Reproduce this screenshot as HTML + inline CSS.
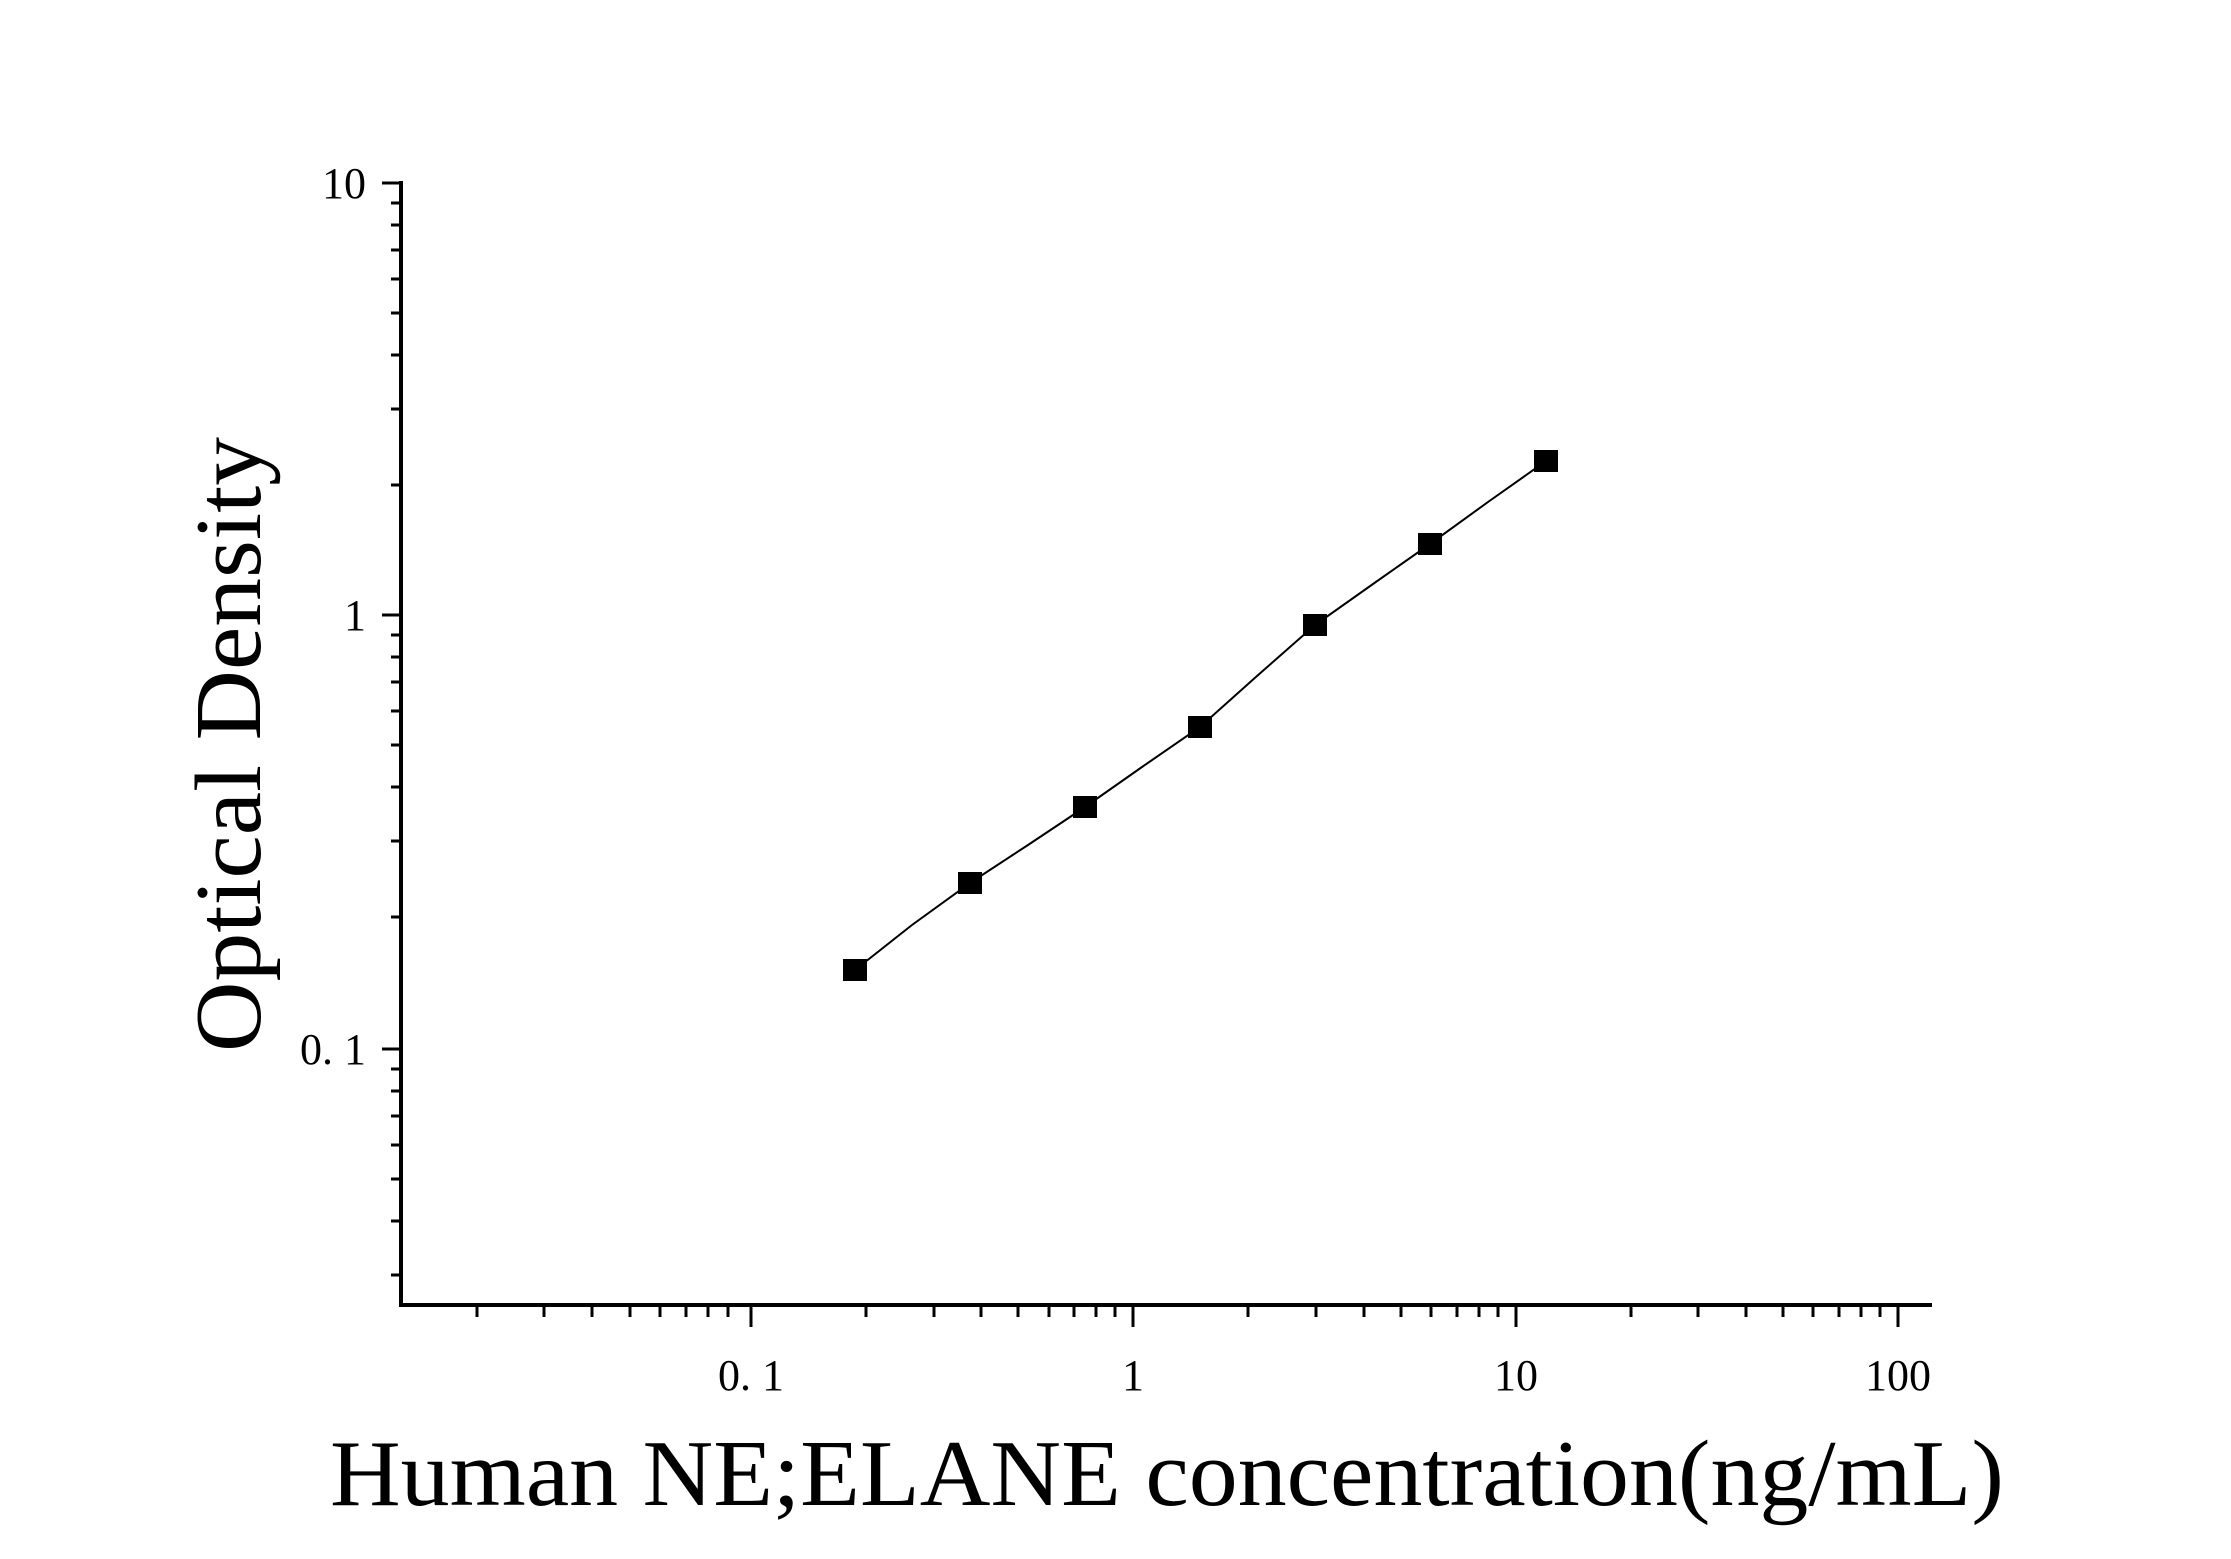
<!DOCTYPE html>
<html><head><meta charset="utf-8"><style>html,body{margin:0;padding:0;background:#fff}svg{display:block}</style></head>
<body>
<svg width="2231" height="1559" viewBox="0 0 2231 1559" xmlns="http://www.w3.org/2000/svg">
<rect width="2231" height="1559" fill="#fff"/>
<g stroke="#000" fill="none">
<line x1="401" y1="181" x2="401" y2="1307" stroke-width="4"/>
<line x1="399" y1="1305" x2="1932" y2="1305" stroke-width="4"/>
<g stroke-width="3">
<line x1="382" y1="183" x2="401" y2="183"/>
<line x1="382" y1="615" x2="401" y2="615"/>
<line x1="382" y1="1049" x2="401" y2="1049"/>
<line x1="391" y1="203" x2="401" y2="203"/><line x1="391" y1="225" x2="401" y2="225"/><line x1="391" y1="250" x2="401" y2="250"/><line x1="391" y1="279" x2="401" y2="279"/><line x1="391" y1="313" x2="401" y2="313"/><line x1="391" y1="355" x2="401" y2="355"/><line x1="391" y1="409" x2="401" y2="409"/><line x1="391" y1="485" x2="401" y2="485"/>
<line x1="391" y1="635" x2="401" y2="635"/><line x1="391" y1="657" x2="401" y2="657"/><line x1="391" y1="682" x2="401" y2="682"/><line x1="391" y1="711" x2="401" y2="711"/><line x1="391" y1="745" x2="401" y2="745"/><line x1="391" y1="787" x2="401" y2="787"/><line x1="391" y1="841" x2="401" y2="841"/><line x1="391" y1="917" x2="401" y2="917"/>
<line x1="391" y1="1069" x2="401" y2="1069"/><line x1="391" y1="1091" x2="401" y2="1091"/><line x1="391" y1="1116" x2="401" y2="1116"/><line x1="391" y1="1145" x2="401" y2="1145"/><line x1="391" y1="1179" x2="401" y2="1179"/><line x1="391" y1="1221" x2="401" y2="1221"/><line x1="391" y1="1275" x2="401" y2="1275"/>
<line x1="751" y1="1305" x2="751" y2="1327"/><line x1="1133" y1="1305" x2="1133" y2="1327"/><line x1="1516" y1="1305" x2="1516" y2="1327"/><line x1="1898" y1="1305" x2="1898" y2="1327"/>
</g>
<g stroke-width="3">
<line x1="477" y1="1305" x2="477" y2="1317"/><line x1="544" y1="1305" x2="544" y2="1317"/><line x1="592" y1="1305" x2="592" y2="1317"/><line x1="630" y1="1305" x2="630" y2="1317"/><line x1="660" y1="1305" x2="660" y2="1317"/><line x1="686" y1="1305" x2="686" y2="1317"/><line x1="708" y1="1305" x2="708" y2="1317"/><line x1="728" y1="1305" x2="728" y2="1317"/>
<line x1="866" y1="1305" x2="866" y2="1317"/><line x1="934" y1="1305" x2="934" y2="1317"/><line x1="981" y1="1305" x2="981" y2="1317"/><line x1="1018" y1="1305" x2="1018" y2="1317"/><line x1="1049" y1="1305" x2="1049" y2="1317"/><line x1="1074" y1="1305" x2="1074" y2="1317"/><line x1="1096" y1="1305" x2="1096" y2="1317"/><line x1="1115" y1="1305" x2="1115" y2="1317"/>
<line x1="1248" y1="1305" x2="1248" y2="1317"/><line x1="1316" y1="1305" x2="1316" y2="1317"/><line x1="1364" y1="1305" x2="1364" y2="1317"/><line x1="1401" y1="1305" x2="1401" y2="1317"/><line x1="1431" y1="1305" x2="1431" y2="1317"/><line x1="1457" y1="1305" x2="1457" y2="1317"/><line x1="1479" y1="1305" x2="1479" y2="1317"/><line x1="1498" y1="1305" x2="1498" y2="1317"/>
<line x1="1631" y1="1305" x2="1631" y2="1317"/><line x1="1698" y1="1305" x2="1698" y2="1317"/><line x1="1746" y1="1305" x2="1746" y2="1317"/><line x1="1783" y1="1305" x2="1783" y2="1317"/><line x1="1813" y1="1305" x2="1813" y2="1317"/><line x1="1839" y1="1305" x2="1839" y2="1317"/><line x1="1861" y1="1305" x2="1861" y2="1317"/><line x1="1880" y1="1305" x2="1880" y2="1317"/>
</g>
<polyline stroke-width="2" points="855,970 912,925 970,883 1028,845 1085,807 1142,767 1200,727 1257,676 1315,625 1373,584 1430,544 1488,502 1546,461"/>
</g>
<g fill="#000">
<rect x="843" y="959" width="24" height="22"/><rect x="958" y="872" width="24" height="22"/><rect x="1073" y="796" width="24" height="22"/><rect x="1188" y="716" width="24" height="22"/><rect x="1303" y="614" width="24" height="22"/><rect x="1418" y="533" width="24" height="22"/><rect x="1534" y="450" width="24" height="22"/>
</g>
<g font-family="Liberation Serif, serif" fill="#000" font-size="44">
<text x="366" y="198" text-anchor="end">10</text>
<text x="366" y="630" text-anchor="end">1</text>
<text x="366" y="1064" text-anchor="end">0. 1</text>
<text x="751" y="1390" text-anchor="middle">0. 1</text>
<text x="1133" y="1390" text-anchor="middle">1</text>
<text x="1516" y="1390" text-anchor="middle">10</text>
<text x="1898" y="1390" text-anchor="middle">100</text>
</g>
<text x="330" y="1505" font-family="Liberation Serif, serif" font-size="94" textLength="1674" lengthAdjust="spacingAndGlyphs">Human NE;ELANE concentration(ng/mL)</text>
<text transform="translate(260,1052) rotate(-90)" font-family="Liberation Serif, serif" font-size="94" textLength="615" lengthAdjust="spacingAndGlyphs">Optical Density</text>
</svg>
</body></html>
